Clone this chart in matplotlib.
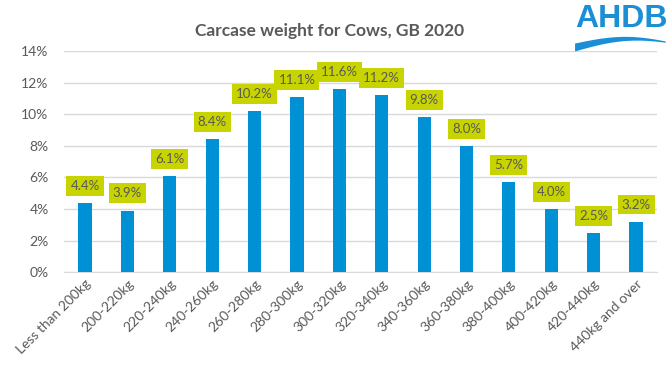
import numpy as np
import matplotlib.pyplot as plt

categories = ['Less than 200kg', '200-220kg', '220-240kg', '240-260kg', '260-280kg',
              '280-300kg', '300-320kg', '320-340kg', '340-360kg', '360-380kg',
              '380-400kg', '400-420kg', '420-440kg', '440kg and over']
shares = [4.4, 3.9, 6.1, 8.4, 10.2, 11.1, 11.6, 11.2, 9.8, 8.0, 5.7, 4.0, 2.5, 3.2]
yticks = [0, 2, 4, 6, 8, 10, 12, 14]

plt.rcParams['font.family'] = ['Lato', 'DejaVu Sans']
grey = '#595959'
blue = '#0090d4'

fig = plt.figure(figsize=(6.72, 3.78), dpi=100)
ax = fig.add_axes([0.095, 0.280, 0.883, 0.585])

x = np.arange(len(categories))
ax.bar(x, shares, width=0.31, color=blue, zorder=3)

# data labels in yellow-green boxes
for xi, v in zip(x, shares):
    ax.annotate(f'{v:.1f}%', (xi, v), xytext=(0, 8), textcoords='offset points',
                ha='center', va='bottom', fontsize=9.5, color=grey,
                bbox=dict(boxstyle='square,pad=0.3', fc='#c8d400', ec='none'), zorder=4)

ax.set_xlim(-0.5, len(categories) - 0.5)
ax.set_ylim(0, 14)
ax.set_yticks(yticks)
ax.set_yticklabels([f'{t}%' for t in yticks], fontsize=10, color=grey)
ax.set_xticks(x)
ax.set_xticklabels(categories, rotation=45, ha='right', rotation_mode='anchor',
                   fontsize=10, color=grey)
ax.tick_params(length=0, pad=4)
ax.tick_params(axis='y', pad=11)
ax.grid(axis='y', color='#d9d9d9', linewidth=1, zorder=0)
for s in ['top', 'right', 'left']:
    ax.spines[s].set_visible(False)
ax.spines['bottom'].set_color('#d9d9d9')

fig.text(0.49, 0.918, 'Carcase weight for Cows, GB 2020', ha='center', va='center',
         fontsize=12.5, fontweight='bold', color=grey)

# AHDB logo: text plus a wave underneath
logo_blue = '#1a8fd6'
fig.text(0.925, 0.95, 'AHDB', ha='center', va='center', fontsize=23,
         fontweight='bold', color=logo_blue, family='Liberation Sans')
ax_logo = fig.add_axes([0.855, 0.862, 0.135, 0.045])
ax_logo.axis('off')
t = np.linspace(0, 1, 80)
upper = 0.35 + 0.55 * np.sin(np.pi * t * 0.9)
lower = upper - 0.55 * (1 - t) - 0.1
ax_logo.fill_between(t, lower, upper, color=logo_blue, lw=0)
ax_logo.set_xlim(0, 1)
ax_logo.set_ylim(-0.4, 1)

fig.savefig('out.png', dpi=100)
